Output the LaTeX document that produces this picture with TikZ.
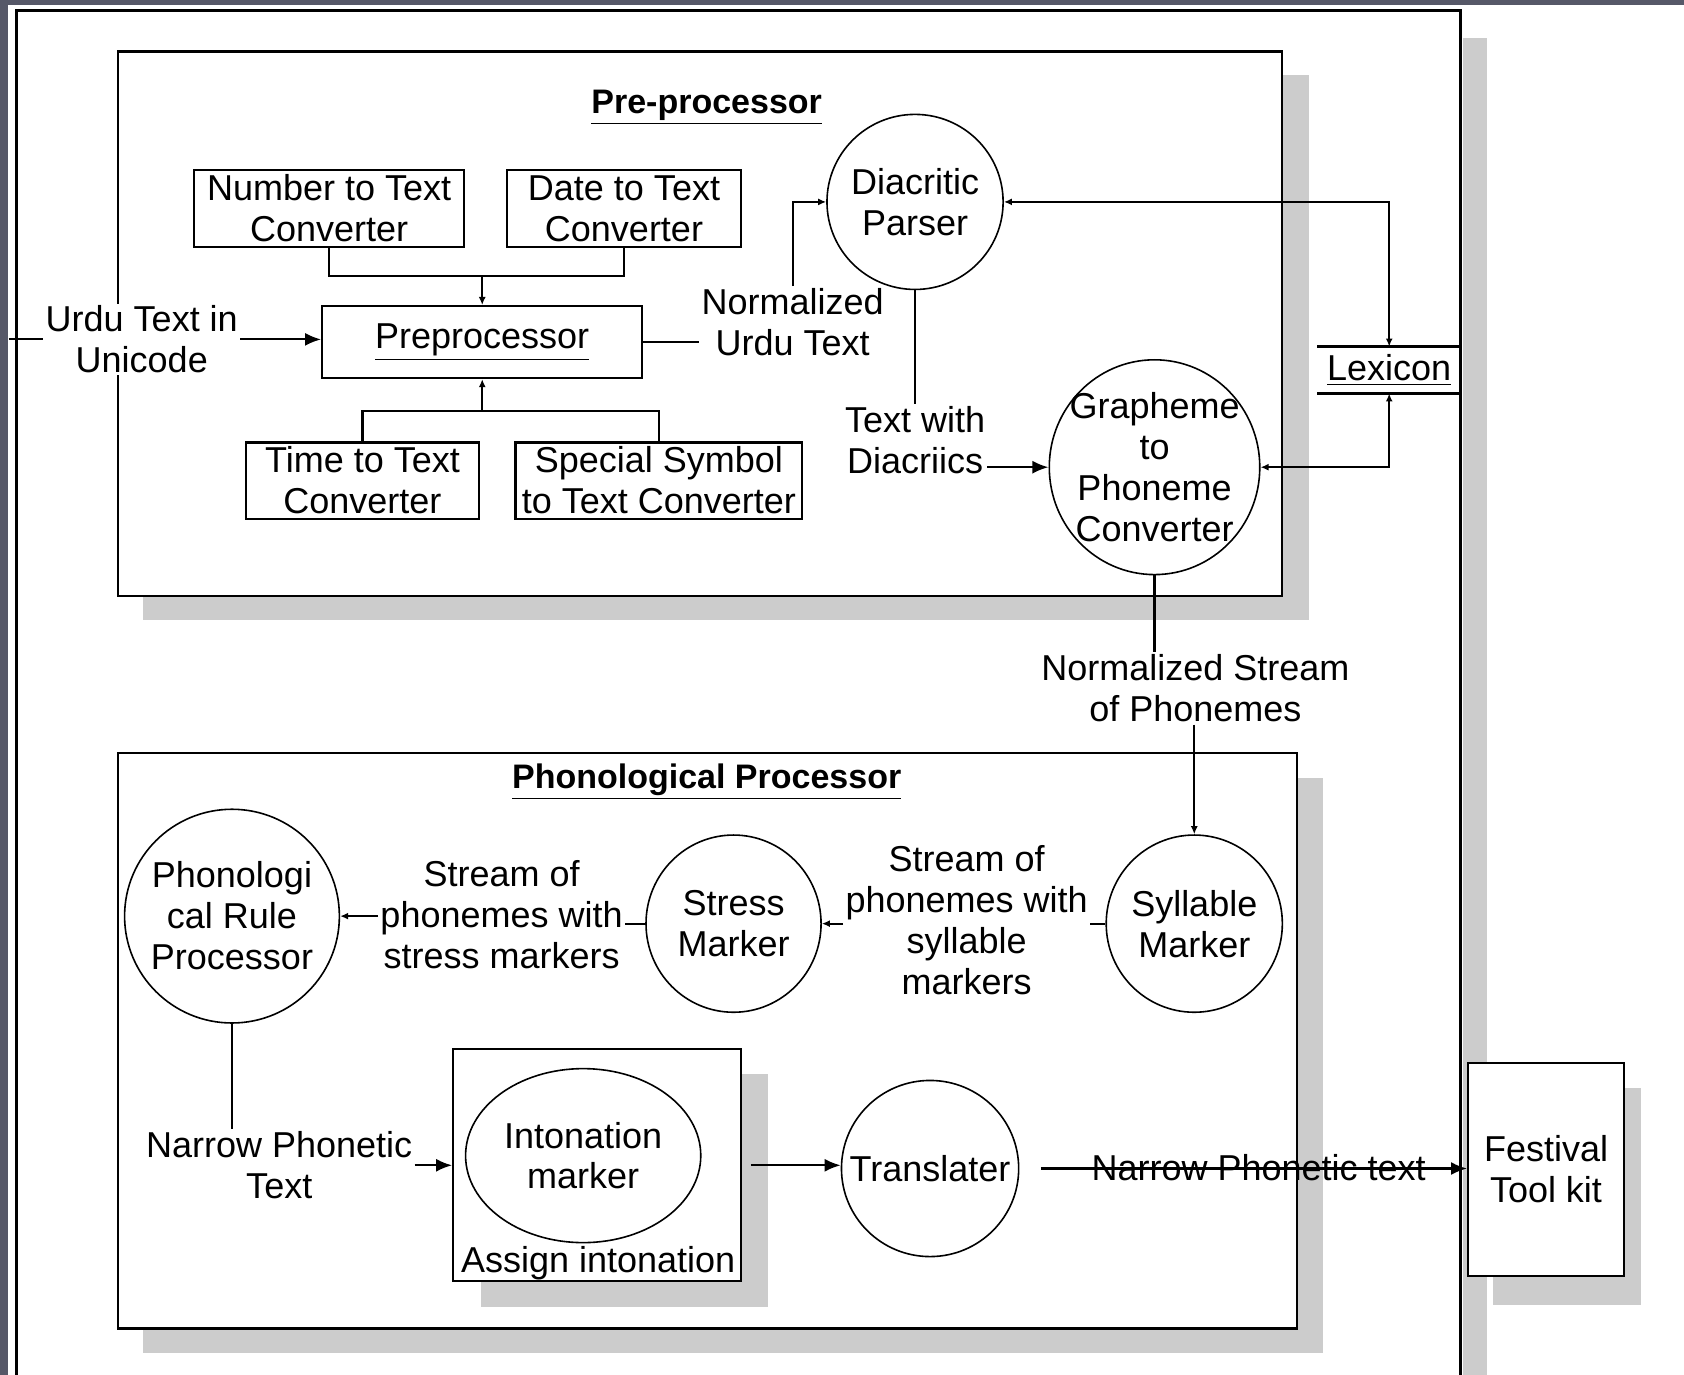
\documentclass[tikz,border=0pt]{standalone}
\usepackage{fontspec}
\setmainfont{Liberation Sans}
\definecolor{shadowgray}{RGB}{204,204,204}
\definecolor{framegray}{RGB}{86,88,104}
\usetikzlibrary{arrows.meta,shapes.geometric}
\newcommand{\dgu}{0.537pt}
\tikzstyle{block} = [
 rectangle,
 draw,
 line width=1.1pt,
 inner sep=0pt,
 align = center
]
\tikzstyle{bubble} = [
 ellipse,
 draw,
 line width=0.8pt,
 inner sep=-30pt,
 align = center
]
\tikzstyle{lbl} = [
 fill=white,
 inner sep=1pt,
 align = center
]
\tikzstyle{heading} = [font=\fontsize{17}{20}\selectfont\bfseries]
\tikzstyle{flow} = [line width=1.1pt]
\tikzstyle{bigarrow} = [flow, -{Latex[length=8pt,width=6.5pt]}]
\tikzstyle{smallarrow} = [flow, -{Latex[length=4pt,width=3.5pt]}]
\tikzstyle{twoway} = [flow, {Latex[length=4pt,width=3.5pt]}-{Latex[length=4pt,width=3.5pt]}]

\begin{document}
\begin{tikzpicture}[x=\dgu, y=-\dgu, font=\fontsize{18}{20.5}\selectfont]
  \useasboundingbox (0,0) rectangle (1568,1280);
  \fill[white] (0,0) rectangle (1568,1280);
  \fill[framegray] (0,0) rectangle (1568,5);
  \fill[framegray] (0,0) rectangle (7,1280);
  \fill[shadowgray] (1362,35) rectangle (1385,1280);
  \draw[line width=1.6pt] (15,1280) -- (15,10) -- (1360,10) -- (1360,1280);

  \fill[shadowgray] (133,70) rectangle (1219,577);
  \draw[line width=1.1pt, fill=white] (110,48) rectangle (1194,555);
  \fill[shadowgray] (133,724) rectangle (1232,1260);
  \draw[line width=1.1pt, fill=white] (110,701) rectangle (1208,1237);
  \fill[shadowgray] (448,1000) rectangle (715,1217);
  \fill[shadowgray] (1390,1013) rectangle (1528,1215);

  \node [heading] (pretitle) at (658,100) {\underline{Pre-processor}};
  \node [heading] (phontitle) at (658,728) {\underline{Phonological Processor}};

  \node [block, minimum width=251*\dgu, minimum height=72*\dgu] (num) at (306.5,194) {Number to Text\\Converter};
  \node [block, minimum width=218*\dgu, minimum height=72*\dgu] (date) at (581,194) {Date to Text\\Converter};
  \node [block, minimum width=298*\dgu, minimum height=67*\dgu] (pre) at (449,318.5) {\underline{Preprocessor}};
  \node [block, minimum width=217*\dgu, minimum height=71*\dgu] (time) at (337.5,447.5) {Time to Text\\Converter};
  \node [block, minimum width=267*\dgu, minimum height=71*\dgu] (spec) at (613.5,447.5) {Special Symbol\\to Text Converter};
  \coordinate (jtop) at (449,257);
  \coordinate (jbot) at (449,383);
  \draw[flow] (num.south) |- (jtop) -| (date.south);
  \draw[smallarrow] (jtop) -- (pre.north);
  \draw[flow] (time.north) |- (jbot) -| (spec.north);
  \draw[smallarrow] (jbot) -- (pre.south);

  \node [lbl] (urdu) at (132,316) {Urdu Text in\\Unicode};
  \coordinate (src) at (8,316);
  \draw[flow] (src) -- (urdu.west);
  \draw[bigarrow] (urdu.east) -- (urdu.east -| pre.west);

  \node [bubble, minimum width=164*\dgu, minimum height=163*\dgu] (dia) at (852,188) {Diacritic\\Parser};
  \node [lbl] (norm) at (738,300) {Normalized\\Urdu Text};
  \draw[flow] (pre.east) -- (pre.east -| norm.west);
  \draw[smallarrow] (norm.north) |- (dia.west);

  \node [lbl] (twd) at (852,410) {Text with\\Diacriics};
  \node [bubble, minimum width=196*\dgu, minimum height=200*\dgu] (gpc) at (1075,435) {Grapheme\\to\\Phoneme\\Converter};
  \draw[flow] (dia.south) -- (twd.north);
  \draw[bigarrow] (twd.east |- gpc.west) -- (gpc.west);

  \node [minimum width=133*\dgu, minimum height=43*\dgu, inner sep=0pt] (lex) at (1293.5,344.5) {\underline{Lexicon}};
  \draw[flow] (lex.north west) -- (lex.north east);
  \draw[flow] (lex.south west) -- (lex.south east);
  \draw[twoway] (dia.east) -| (lex.north);
  \draw[twoway] (lex.south) |- (gpc.east);

  \node [lbl] (nsp) at (1113,641) {Normalized Stream\\of Phonemes};
  \node [bubble, minimum width=164*\dgu, minimum height=165*\dgu] (syl) at (1112,860) {Syllable\\Marker};
  \draw[flow] (gpc.south) -- (gpc.south |- nsp.north);
  \draw[smallarrow] (nsp.south -| syl.north) -- (syl.north);

  \node [bubble, minimum width=163*\dgu, minimum height=165*\dgu] (stress) at (683,860) {Stress\\Marker};
  \node [lbl] (sws) at (900,857) {Stream of\\phonemes with\\syllable\\markers};
  \draw[flow] (syl.west) -- (syl.west -| sws.east);
  \draw[smallarrow] (stress.east -| sws.west) -- (stress.east);

  \node [bubble, minimum width=200*\dgu, minimum height=199*\dgu] (prp) at (216,853) {Phonologi\\cal Rule\\Processor};
  \node [lbl] (sst) at (467,852) {Stream of\\phonemes with\\stress markers};
  \draw[flow] (stress.west) -- (stress.west -| sst.east);
  \draw[smallarrow] (prp.east -| sst.west) -- (prp.east);

  \node [block, fill=white, minimum width=268*\dgu, minimum height=216*\dgu] (ib) at (556,1085) {};
  \node [bubble, minimum width=219*\dgu, minimum height=162*\dgu] (im) at (543,1076) {Intonation\\marker};
  \node [inner sep=0pt] (assign) at (557,1176) {Assign intonation};
  \node [lbl] (npt) at (260,1085) {Narrow Phonetic\\Text};
  \draw[flow] (prp.south) -- (prp.south |- npt.north);
  \draw[bigarrow] (npt.east |- ib.west) -- (ib.west);

  \node [bubble, minimum width=165*\dgu, minimum height=164*\dgu] (tr) at (866,1088) {Translater};
  \draw[bigarrow] ([xshift=8*\dgu]ib.east) -- (ib.east -| tr.west);

  \node [block, fill=white, minimum width=145*\dgu, minimum height=198*\dgu] (fest) at (1439.5,1089) {Festival\\Tool kit};
  \node [inner sep=0pt] (npx) at (1172,1087) {Narrow Phonetic text};
  \draw[bigarrow] ([xshift=20*\dgu]tr.east) -- (tr.east -| fest.west);
\end{tikzpicture}
\end{document}
